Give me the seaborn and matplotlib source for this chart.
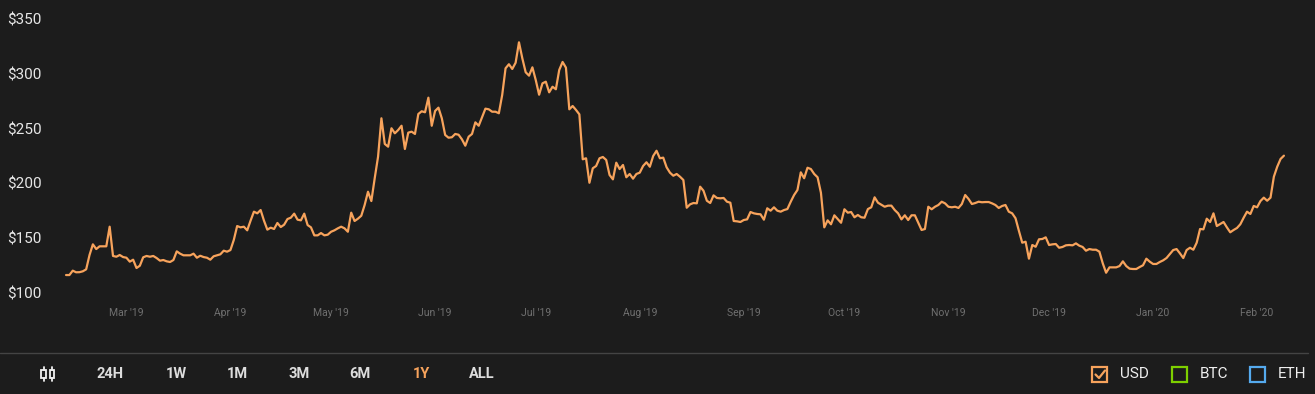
import pandas as pd
import seaborn as sns
import matplotlib.pyplot as plt
import matplotlib.dates as mdates
from matplotlib.lines import Line2D
from matplotlib.patches import Rectangle

# ETH price in USD, one value per day
start_date = "2019-02-11"
eth_usd = [
    116.4, 116.4, 120.4, 118.9, 119.0, 119.8, 121.6, 134.7, 144.4, 140.1,
    142.6, 142.6, 142.6, 160.5, 133.8, 133.1, 134.7, 132.8, 132.2, 128.6,
    130.4, 122.8, 124.9, 132.6, 133.8, 133.1, 133.8, 131.9, 129.5, 130.1,
    128.9, 128.3, 130.1, 138.0, 135.9, 134.4, 134.4, 134.4, 135.9, 132.2,
    134.0, 132.8, 132.2, 130.4, 133.5, 134.4, 135.3, 138.6, 137.7, 139.2,
    148.4, 161.1, 159.9, 160.5, 157.2, 166.0, 174.2, 172.7, 175.7, 166.0,
    157.8, 159.6, 158.4, 163.9, 160.2, 162.3, 167.5, 168.7, 172.4, 166.9,
    166.3, 172.4, 162.0, 159.9, 152.6, 152.6, 154.7, 152.6, 153.2, 155.9,
    157.2, 159.0, 160.5, 159.0, 155.9, 173.3, 165.7, 167.8, 170.5, 180.3,
    192.4, 183.9, 204.7, 224.4, 259.4, 236.0, 233.5, 250.3, 245.7, 248.7,
    252.6, 231.4, 246.3, 247.2, 245.1, 263.3, 265.8, 264.9, 278.2, 252.6,
    266.1, 269.1, 259.4, 244.2, 241.7, 242.1, 245.1, 244.4, 240.2, 234.4,
    242.6, 245.1, 255.7, 252.6, 260.3, 268.2, 267.6, 265.4, 265.4, 264.0,
    280.7, 305.0, 308.7, 304.4, 310.1, 328.7, 314.1, 301.4, 298.3, 305.9,
    294.3, 280.9, 291.3, 292.8, 283.1, 288.2, 285.9, 303.5, 310.8, 305.6,
    267.6, 270.6, 267.0, 263.0, 222.0, 222.9, 200.6, 213.8, 215.9, 222.9,
    224.1, 221.4, 207.7, 203.7, 218.9, 213.1, 216.8, 205.6, 208.6, 204.3,
    208.6, 209.8, 215.9, 219.3, 215.2, 225.0, 229.8, 222.9, 223.5, 214.7,
    209.8, 207.0, 208.6, 206.1, 203.1, 177.8, 180.9, 182.1, 181.8, 197.0,
    193.3, 184.2, 182.1, 189.1, 186.7, 186.4, 186.7, 183.3, 182.4, 165.7,
    165.4, 164.8, 166.6, 167.2, 173.9, 172.7, 172.1, 171.8, 166.9, 177.3,
    175.1, 178.2, 175.1, 174.2, 175.7, 176.6, 183.3, 189.4, 194.0, 210.1,
    204.7, 214.3, 213.1, 208.6, 205.6, 191.5, 159.9, 166.3, 162.7, 170.9,
    167.5, 164.1, 176.4, 173.3, 173.9, 169.1, 171.2, 169.1, 168.7, 176.6,
    178.2, 187.3, 182.4, 180.6, 178.7, 179.7, 179.7, 175.7, 172.7, 167.2,
    170.9, 166.6, 170.9, 170.9, 164.1, 157.5, 158.4, 178.7, 176.4, 178.7,
    180.3, 183.3, 181.8, 178.7, 178.2, 178.7, 177.6, 181.2, 189.4, 185.8,
    181.2, 182.1, 183.3, 182.8, 183.0, 183.0, 181.8, 180.3, 177.6, 179.4,
    180.3, 174.2, 172.7, 168.2, 156.8, 145.9, 146.8, 131.3, 143.8, 142.2,
    149.0, 149.3, 150.8, 143.8, 144.4, 144.7, 141.3, 142.0, 143.5, 143.8,
    143.5, 145.3, 143.2, 142.0, 138.6, 140.1, 139.5, 139.5, 137.7, 127.1,
    118.5, 123.4, 123.4, 123.4, 124.6, 128.9, 124.6, 122.2, 121.9, 121.9,
    123.7, 125.3, 131.3, 128.6, 126.5, 126.5, 128.3, 129.8, 131.9, 135.6,
    139.2, 140.1, 136.2, 131.9, 139.2, 141.3, 139.5, 145.9, 158.4, 158.1,
    167.8, 164.8, 172.7, 161.1, 163.0, 164.8, 159.9, 155.4, 157.5, 159.3,
    162.7, 168.7, 174.2, 172.1, 179.4, 178.2, 183.9, 187.0, 184.2, 187.0,
    206.1, 215.2, 222.3, 225.3,
]
y_ticks = [100, 150, 200, 250, 300, 350]
ranges = ["24H", "1W", "1M", "3M", "6M", "1Y", "ALL"]
active_range = "1Y"
currencies = ["USD", "BTC", "ETH"]
currency_colors = ["#f7a35c", "#7ed000", "#55aaee"]

dates = pd.date_range(start_date, periods=len(eth_usd), freq="D")
df = pd.DataFrame({"date": dates, "price": eth_usd})

W, H = 1315, 394
BG = "#1c1c1c"
ORANGE = "#f7a35c"


def fx(px):
    return px / W


def fy(py):
    return 1 - py / H


sns.set_theme(style="dark", rc={"axes.facecolor": BG, "figure.facecolor": BG})
plt.rcParams["font.family"] = ["Roboto", "DejaVu Sans"]

fig = plt.figure(figsize=(W / 100, H / 100), dpi=100)
ax = fig.add_axes([fx(60), fy(302), fx(1295) - fx(60), fy(10) - fy(302)])

sns.lineplot(data=df, x="date", y="price", ax=ax, color=ORANGE, linewidth=1.6)

ax.set_xlim(dates[0] - pd.Timedelta(days=1.8), dates[0] + pd.Timedelta(days=366.3))
ax.set_ylim(91.8, 358.2)
ax.set_yticks(y_ticks)
ax.set_yticklabels([f"${v}" for v in y_ticks])
ax.xaxis.set_major_locator(mdates.MonthLocator())
ax.xaxis.set_major_formatter(mdates.DateFormatter("%b '%y"))
ax.tick_params(axis="y", length=0, pad=13.5, labelsize=11, labelcolor="#e6e6e6")
ax.tick_params(axis="x", length=0, pad=4, labelsize=7.5, labelcolor="#707070")
ax.set_xlabel("")
ax.set_ylabel("")
ax.grid(False)
for s in ax.spines.values():
    s.set_visible(False)

# separator line above the controls
fig.add_artist(Line2D([0, fx(1308)], [fy(353), fy(353)], color="#444444", lw=1))

# candlestick icon
for cx in (43.5, 52):
    fig.add_artist(Rectangle((fx(cx - 2.3), fy(378)), fx(4.6), fy(370) - fy(378),
                             fill=False, edgecolor="#f0f0f0", lw=1.3))
    fig.add_artist(Line2D([fx(cx), fx(cx)], [fy(367), fy(370)], color="#f0f0f0", lw=1.3))
    fig.add_artist(Line2D([fx(cx), fx(cx)], [fy(378), fy(381)], color="#f0f0f0", lw=1.3))

# range buttons
range_x = [110.5, 176, 237, 299, 360, 421, 482]
for label, px in zip(ranges, range_x):
    color = ORANGE if label == active_range else "#dddddd"
    fig.text(fx(px), fy(373.5), label, ha="center", va="center",
             fontsize=10.5, fontweight="bold", color=color)

# currency checkboxes
box_x = [1092, 1172, 1250]
for name, color, bx in zip(currencies, currency_colors, box_x):
    fig.add_artist(Rectangle((fx(bx), fy(382)), fx(15), fy(367) - fy(382),
                             fill=False, edgecolor=color, lw=1.6))
    fig.text(fx(bx + 28), fy(374.5), name, ha="left", va="center",
             fontsize=11, color="#eeeeee")
fig.add_artist(Line2D([fx(1095.5), fx(1099), fx(1105)], [fy(374.5), fy(378), fy(370.5)],
                      color=ORANGE, lw=1.6))

fig.savefig("out.png", dpi=100, facecolor=BG)
